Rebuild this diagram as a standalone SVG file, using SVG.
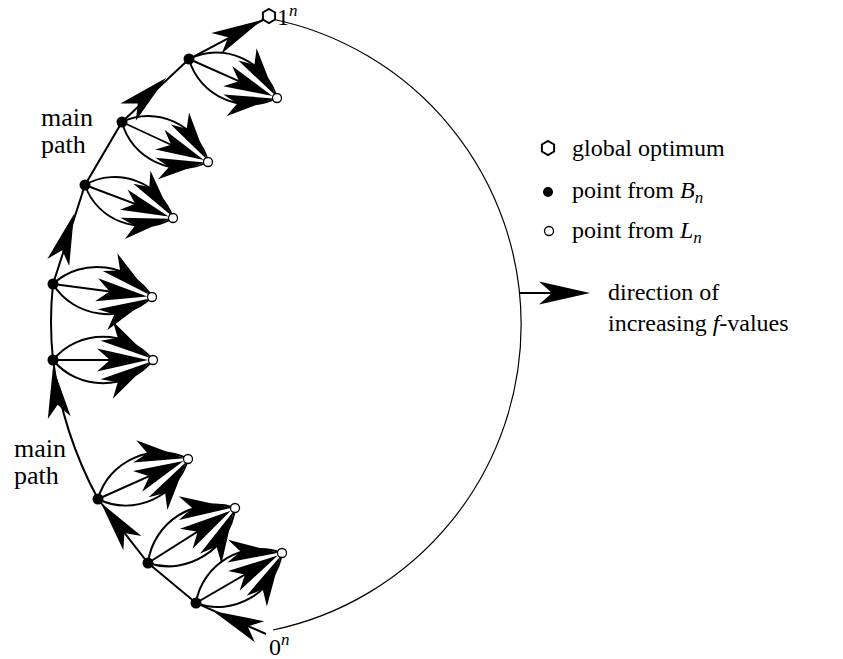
<svg xmlns="http://www.w3.org/2000/svg" xmlns:xlink="http://www.w3.org/1999/xlink" width="843" height="659" viewBox="0 0 843 659">
<style>
  .ln{fill:none;stroke:#000;stroke-width:2}
  .thin{fill:none;stroke:#000;stroke-width:1.2}
  .bp{fill:#000}
  .lp{fill:#fff;stroke:#000;stroke-width:1.3}
  .hex{fill:#fff;stroke:#000;stroke-width:2}
  text{font-family:"Liberation Serif","Times New Roman",serif;font-size:24px;fill:#000}
  .big{font-size:26px}
  .it{font-style:italic}
  .sup{font-size:17px;font-style:italic}
</style>
<defs>
  <path id="ah" d="M0,0 L-51,-11.5 L-38,0 L-51,11.5 Z" fill="#000"/>
  <g id="petal">
    <path class="ln" d="M0,0 L90,0"/>
    <path class="ln" d="M0,0 C25,-31 75,-31 100,0"/>
    <path class="ln" d="M0,0 C25,31 75,31 100,0"/>
    <use xlink:href="#ah" href="#ah" transform="translate(95,0)"/>
    <use xlink:href="#ah" href="#ah" transform="translate(97,-2) rotate(32)"/>
    <use xlink:href="#ah" href="#ah" transform="translate(97,2) rotate(-32)"/>
  </g>
</defs>
<rect width="843" height="659" fill="#fff"/>
<g id="connectors">
  <path class="thin" d="M272,19 A312,312 0 0 1 273,630"/>
  <path class="ln" d="M266,634 L196,603 L148,563 L98,499 Q62.7,433.6 53,360 Q49,322 53,284 L85,185 L122,122 L189,59 L263,20"/>
  <use xlink:href="#ah" href="#ah" transform="translate(213,611) rotate(204)"/>
  <use xlink:href="#ah" href="#ah" transform="translate(101,503) rotate(232)"/>
  <use xlink:href="#ah" href="#ah" transform="translate(53,367) rotate(263)"/>
  <use xlink:href="#ah" href="#ah" transform="translate(74,214) rotate(288)"/>
  <use xlink:href="#ah" href="#ah" transform="translate(166,78) rotate(-42)"/>
  <use xlink:href="#ah" href="#ah" transform="translate(262,20) rotate(-27)"/>
  <use xlink:href="#petal" href="#petal" transform="translate(189,59) rotate(23.9) scale(0.96)"/>
  <use xlink:href="#petal" href="#petal" transform="translate(122,122) rotate(24.9) scale(0.95)"/>
  <use xlink:href="#petal" href="#petal" transform="translate(85,185) rotate(20.6) scale(0.94)"/>
  <use xlink:href="#petal" href="#petal" transform="translate(53,284) rotate(7.5) scale(1.0)"/>
  <use xlink:href="#petal" href="#petal" transform="translate(53,360) rotate(0) scale(1.0)"/>
  <use xlink:href="#petal" href="#petal" transform="translate(98,499) rotate(-24) scale(0.985)"/>
  <use xlink:href="#petal" href="#petal" transform="translate(148,563) rotate(-32.3) scale(1.03)"/>
  <use xlink:href="#petal" href="#petal" transform="translate(196,603) rotate(-30.2) scale(0.995)"/>
</g>
<g id="b1"><circle class="bp" cx="189" cy="59" r="5.5"/></g>
<g id="b2"><circle class="bp" cx="122" cy="122" r="5.5"/></g>
<g id="b3"><circle class="bp" cx="85" cy="185" r="5.5"/></g>
<g id="b4"><circle class="bp" cx="53" cy="284" r="5.5"/></g>
<g id="b5"><circle class="bp" cx="53" cy="360" r="5.5"/></g>
<g id="b6"><circle class="bp" cx="98" cy="499" r="5.5"/></g>
<g id="b7"><circle class="bp" cx="148" cy="563" r="5.5"/></g>
<g id="b8"><circle class="bp" cx="196" cy="603" r="5.5"/></g>
<g id="l1"><circle class="lp" cx="277" cy="98" r="4.5"/></g>
<g id="l2"><circle class="lp" cx="208" cy="162" r="4.5"/></g>
<g id="l3"><circle class="lp" cx="173" cy="218" r="4.5"/></g>
<g id="l4"><circle class="lp" cx="152" cy="297" r="4.5"/></g>
<g id="l5"><circle class="lp" cx="153" cy="360" r="4.5"/></g>
<g id="l6"><circle class="lp" cx="188" cy="459" r="4.5"/></g>
<g id="l7"><circle class="lp" cx="235" cy="508" r="4.5"/></g>
<g id="l8"><circle class="lp" cx="282" cy="553" r="4.5"/></g>
<g id="opt">
  <polygon class="hex" points="269,9 275.1,12.5 275.1,19.5 269,23 262.9,19.5 262.9,12.5"/>
  <text x="277" y="25">1<tspan class="sup" dy="-9">n</tspan></text>
</g>
<g id="zero">
  <text x="269" y="655">0<tspan class="sup" dy="-10">n</tspan></text>
</g>
<g id="label-top">
  <text class="big" x="41" y="126">main</text>
  <text class="big" x="41" y="153">path</text>
</g>
<g id="label-bottom">
  <text class="big" x="14" y="457">main</text>
  <text class="big" x="14" y="484">path</text>
</g>
<g id="legend">
  <polygon class="hex" points="548,141 554.1,144.5 554.1,151.5 548,155 541.9,151.5 541.9,144.5"/>
  <text x="572" y="156">global optimum</text>
  <circle class="bp" cx="548" cy="192" r="5"/>
  <text x="572" y="198">point from <tspan class="it">B</tspan><tspan class="sup" dy="5">n</tspan></text>
  <circle class="lp" cx="549" cy="231" r="4.5"/>
  <text x="572" y="238">point from <tspan class="it">L</tspan><tspan class="sup" dy="5">n</tspan></text>
  <path class="ln" d="M519,293 L560,293"/>
  <use xlink:href="#ah" href="#ah" transform="translate(590,293)"/>
  <text x="608" y="300">direction of</text>
  <text x="608" y="331">increasing <tspan class="it">f</tspan>-values</text>
</g>
</svg>
